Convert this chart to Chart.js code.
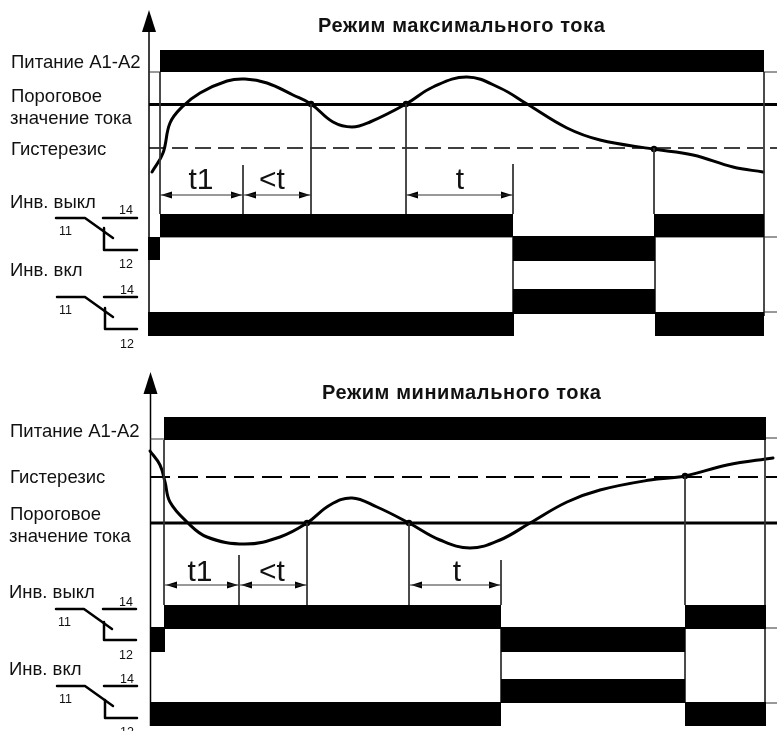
<!DOCTYPE html>
<html>
<head>
<meta charset="utf-8">
<script src="https://cdn.jsdelivr.net/npm/chart.js@4"></script>
<style>
html, body { margin: 0; padding: 0; background: #fff; overflow: hidden; }
#box { position: relative; width: 777px; height: 731px; }
</style>
</head>
<body>
<div id="box"><canvas id="diagram"></canvas></div>
<script>
// current curves
const currentMax = [[152,172],[163,153],[170,123],[182,107],[200,93],[227,81],[245,79],[267,83],[293,95],[311,104],[333,122],[352,127],[370,122],[406,104],[433,87],[467,77],[500,88],[527,104],[567,128],[600,140],[653,149],[693,155],[733,167],[763,172]];
const currentMin = [[150,451],[160,465],[165,482],[170,502],[187,522],[207,537],[245,544],[280,537],[307,523],[330,505],[352,498],[377,507],[409,523],[440,540],[470,548],[500,540],[530,523],[567,502],[600,490],[650,480],[685,476],[727,465],[773,458]];

// black state blocks: [start, end, top, bottom]
const blocksMax = [[160,764,50,72],[160,513,214,237],[654,764,214,237],[148,160,237,260],[513,655,236,261],[513,655,289,314],[148,514,312,336],[655,764,312,336]];
const blocksMin = [[164,766,417,440],[164,501,605,629],[685,766,605,629],[150,165,627,652],[501,685,627,652],[501,685,679,703],[151,501,702,726],[685,766,702,726]];

// level lines
const thresholdLines = [[149,777,104.5],[150,777,523]];
const hysteresisLines = [[149,777,148],[150,777,477]];
const thinLevels = [[149,160,72],[764,777,72],[160,513,237],[655,777,237],[764,777,312],[150,164,439],[766,777,438],[165,501,628],[685,777,628],[766,777,703]];

// vertical markers: [x, top, bottom]
const markers = [[160,72,214],[243,165,214],[311,104,214],[406,104,214],[513,164,214],[654,148,214],[764,72,316],[513,237,314],[655,237,312],[164,440,605],[239,555,605],[307,523,605],[409,523,605],[501,560,605],[685,476,605],[765,440,703],[501,629,702],[685,629,702]];
const axes = [[149,20,336],[150.5,385,726]];
const axisHeads = [[149,10,32],[150.5,372,394]];
const crossings = [[311,104],[406,104],[654,149],[307,523],[409,523],[685,476]];

// time spans: [start, end, y]
const spans = [[160,243,195],[244,311,195],[406,513,195],[165,239,585],[240,307,585],[410,501,585]];

// relay contact symbols
const contacts = [
  [[56,218],[85,218],[113,238]], [[103,218],[137,218]], [[104,228],[104,250],[137,250]],
  [[57,297],[85,297],[113,317]], [[104,297],[137,297]], [[105,308],[105,329],[137,329]],
  [[56,609],[84,609],[112,629]], [[103,609],[136,609]], [[104,622],[104,640],[136,640]],
  [[57,686],[85,686],[113,706]], [[104,686],[137,686]], [[105,700],[105,718],[137,718]]
];

// texts: [text, x, baseline y]
const titles = [['Режим максимального тока',318,32],['Режим минимального тока',322,399]];
const rowLabels = [['Питание А1-А2',11,68],['Пороговое',11,102],['значение тока',10,124],['Гистерезис',11,154.5],['Инв. выкл',10,208],['Инв. вкл',10,275.5],
  ['Питание А1-А2',10,437],['Гистерезис',10,483],['Пороговое',10,520],['значение тока',9,542],['Инв. выкл',9,598],['Инв. вкл',9,675]];
const pinLabels = [['14',119,214],['11',59,235],['12',119,268],['14',120,294],['11',59,314],['12',120,348],
  ['14',119,606],['11',58,626],['12',119,659],['14',120,683],['11',59,703],['12',120,736]];
const spanLabels = [['t1',201,189],['<t',272,189],['t',460,189],['t1',200,581],['<t',272,581],['t',457,581]];

const pts = list => list.map(p => ({x: p[0], y: p[1]}));

function stroke(list, width, color, extra) {
  return Object.assign({data: pts(list), borderColor: color, borderWidth: width, showLine: true, pointRadius: 0, fill: false}, extra);
}
function block(b) {
  return {data: pts([[b[0],b[2]],[b[1],b[2]]]), showLine: true, borderWidth: 0, pointRadius: 0, backgroundColor: '#000', fill: {target: {value: b[3]}}};
}
function solid(list) {
  return {data: pts(list), showLine: true, borderWidth: 0, pointRadius: 0, backgroundColor: '#000', fill: 'shape'};
}

const datasets = [];
blocksMax.concat(blocksMin).forEach(b => datasets.push(block(b)));
thinLevels.forEach(l => datasets.push(stroke([[l[0],l[2]],[l[1],l[2]]], 1, '#333')));
markers.forEach(m => datasets.push(stroke([[m[0],m[1]],[m[0],m[2]]], 1, '#333')));
axes.forEach(a => datasets.push(stroke([[a[0],a[1]],[a[0],a[2]]], 1.5, '#000')));
axisHeads.forEach(h => datasets.push(solid([[h[0],h[1]],[h[0]+7,h[2]],[h[0]-7,h[2]]])));
hysteresisLines.forEach((l, i) => datasets.push(stroke([[l[0],l[2]],[l[1],l[2]]], i ? 2 : 1.3, '#000', {borderDash: i ? [20,8] : [16,7]})));
thresholdLines.forEach(l => datasets.push(stroke([[l[0],l[2]],[l[1],l[2]]], 3, '#000')));
spans.forEach(s => {
  datasets.push(stroke([[s[0],s[2]],[s[1],s[2]]], 1, '#333'));
  datasets.push(solid([[s[0]+1,s[2]],[s[0]+12,s[2]-3.5],[s[0]+12,s[2]+3.5]]));
  datasets.push(solid([[s[1]-1,s[2]],[s[1]-12,s[2]-3.5],[s[1]-12,s[2]+3.5]]));
});
[currentMax, currentMin].forEach(c => datasets.push(stroke(c, 3, '#000', {tension: 0.4, borderCapStyle: 'round'})));
contacts.forEach(c => datasets.push(stroke(c, 2.5, '#000', {borderCapStyle: 'round', borderJoinStyle: 'round'})));
datasets.push({data: pts(crossings), showLine: false, pointRadius: 3.2, pointBackgroundColor: '#000', pointBorderWidth: 0});

// writes the labels through the chart's scales
const textLayer = {
  id: 'textLayer',
  afterDatasetsDraw(chart) {
    const {ctx, scales} = chart;
    const put = (list, font, spacing) => {
      ctx.font = font;
      ctx.letterSpacing = spacing || '0px';
      list.forEach(t => ctx.fillText(t[0], scales.x.getPixelForValue(t[1]), scales.y.getPixelForValue(t[2])));
    };
    ctx.save();
    ctx.fillStyle = '#111';
    ctx.textBaseline = 'alphabetic';
    ctx.textAlign = 'left';
    put(titles, 'bold 20px "Liberation Sans"', '0.6px');
    put(rowLabels, '18.5px "Liberation Sans"');
    put(pinLabels, '12.5px "Liberation Sans"');
    ctx.textAlign = 'center';
    put(spanLabels, '30px "Liberation Sans"');
    ctx.restore();
  }
};

new Chart(document.getElementById('diagram'), {
  type: 'scatter',
  data: {datasets: datasets},
  options: {
    responsive: true,
    maintainAspectRatio: false,
    animation: false,
    layout: {padding: 0, autoPadding: false},
    scales: {
      x: {type: 'linear', display: false, min: 0, max: 777},
      y: {type: 'linear', display: false, min: 0, max: 731, reverse: true}
    },
    plugins: {legend: {display: false}, tooltip: {enabled: false}}
  },
  plugins: [textLayer]
});
</script>
</body>
</html>
